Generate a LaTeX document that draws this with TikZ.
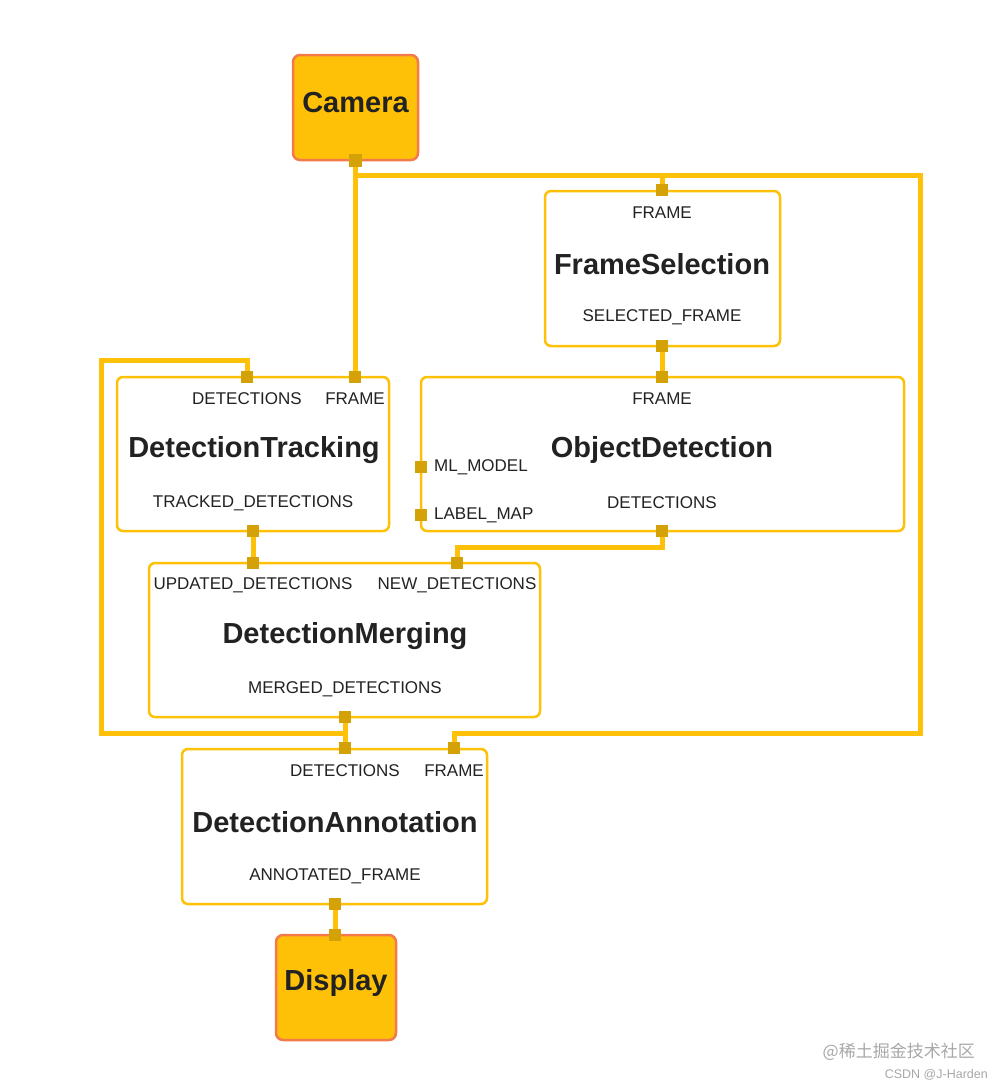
\documentclass[tikz,border=0pt]{standalone}
\usepackage{fontspec}
\setmainfont{Liberation Sans}
\newfontfamily\cjkfont{Noto Sans CJK SC}
\definecolor{amber}{HTML}{FFC107}
\definecolor{portc}{HTML}{D4A106}
\definecolor{edgec}{HTML}{F47A4C}
\definecolor{txt}{HTML}{222222}
\definecolor{wm}{HTML}{A8A8A8}
\pgfdeclarelayer{bg}
\pgfsetlayers{bg,main}
\tikzset{
  calcbox/.style={draw=amber, line width=2.5pt, fill=white, rounded corners=6pt, inner sep=0pt},
  srcbox/.style={draw=edgec, fill=amber, line width=2.5pt, rounded corners=7pt, inner sep=0pt},
  portsq/.style={fill=portc, draw=none, minimum size=12pt, inner sep=0pt},
  wire/.style={draw=amber, line width=5pt},
  plabel/.style={font=\fontsize{17}{19}\selectfont, text=txt, inner sep=0pt},
  ttl/.style={font=\fontsize{29}{32}\selectfont\bfseries, text=txt, inner sep=0pt},
}
\begin{document}
\begin{tikzpicture}[x=1pt,y=-1pt]
\useasboundingbox (0,0) rectangle (1004,1090);

% boxes
\node[srcbox, minimum width=125pt, minimum height=105pt] (cam) at (355.5,107.5) {};
\node[calcbox, minimum width=235pt, minimum height=155pt] (fs) at (662.5,268.5) {};
\node[calcbox, minimum width=483pt, minimum height=154pt] (od) at (662.5,454) {};
\node[calcbox, minimum width=272pt, minimum height=154pt] (dt) at (253,454) {};
\node[calcbox, minimum width=391pt, minimum height=154pt] (dm) at (344.5,640) {};
\node[calcbox, minimum width=305pt, minimum height=155pt] (da) at (334.5,826.5) {};
\node[srcbox, minimum width=120pt, minimum height=105pt] (disp) at (336,987.5) {};

% ports
\node[portsq, minimum size=13pt] (camOut) at (355,160) {};
\node[portsq] (fsIn) at (662,190) {};
\node[portsq] (fsOut) at (662,346) {};
\node[portsq] (odIn) at (662,377) {};
\node[portsq] (odModel) at (421,467) {};
\node[portsq] (odLabel) at (421,515) {};
\node[portsq] (odOut) at (662,531) {};
\node[portsq] (dtDet) at (247,377) {};
\node[portsq] (dtFrame) at (355,377) {};
\node[portsq] (dtOut) at (253,531) {};
\node[portsq] (dmUpd) at (253,563) {};
\node[portsq] (dmNew) at (457,563) {};
\node[portsq] (dmOut) at (345,717) {};
\node[portsq] (daDet) at (345,748) {};
\node[portsq] (daFrame) at (454,748) {};
\node[portsq] (daOut) at (335,904) {};
\node[portsq] (dispIn) at (335,935) {};

% bend points
\coordinate (jA) at (355,175);
\coordinate (jB) at (920,175);
\coordinate (jC) at (920,733);
\coordinate (jD) at (454,733);
\coordinate (jE) at (662,175);
\coordinate (jF) at (662,547);
\coordinate (jG) at (457,547);
\coordinate (jH) at (247,360);
\coordinate (jI) at (101,360);
\coordinate (jJ) at (101,733);
\coordinate (jK) at (345,733);

\begin{pgfonlayer}{bg}
\fill[white] (0,0) rectangle (1004,1090);
\draw[wire] (camOut.center) -- (dtFrame.center);
\draw[wire] (jA) -- (jB) -- (jC) -- (jD) -- (daFrame.center);
\draw[wire] (jA) -- (jE) -- (fsIn.center);
\draw[wire] (fsOut.center) -- (odIn.center);
\draw[wire] (odOut.center) -- (jF) -- (jG) -- (dmNew.center);
\draw[wire] (dtOut.center) -- (dmUpd.center);
\draw[wire] (dmOut.center) -- (daDet.center);
\draw[wire] (dtDet.center) -- (jH) -- (jI) -- (jJ) -- (jK);
\draw[wire] (daOut.center) -- (dispIn.center);
\end{pgfonlayer}

% texts
\node[ttl] (camT) at (355.5,103) {Camera};
\node[ttl] (dispT) at (336,983) {Display};

\node[plabel] (fsL1) at (662,213) {FRAME};
\node[ttl] (fsT) at (662,264) {FrameSelection};
\node[plabel] (fsL2) at (662,317) {SELECTED\_FRAME};

\node[plabel] (odL1) at (662,399) {FRAME};
\node[ttl] (odT) at (662,450) {ObjectDetection};
\node[plabel] (odL2) at (662,503) {DETECTIONS};
\node[plabel, anchor=west] (odL3) at (434,467) {ML\_MODEL};
\node[plabel, anchor=west] (odL4) at (434,515) {LABEL\_MAP};

\node[plabel] (dtL1) at (247,399) {DETECTIONS};
\node[plabel] (dtL2) at (355,399) {FRAME};
\node[ttl] (dtT) at (254,450) {DetectionTracking};
\node[plabel] (dtL3) at (253,503) {TRACKED\_DETECTIONS};

\node[plabel] (dmL1) at (253,585) {UPDATED\_DETECTIONS};
\node[plabel] (dmL2) at (457,585) {NEW\_DETECTIONS};
\node[ttl] (dmT) at (345,636) {DetectionMerging};
\node[plabel] (dmL3) at (345,689) {MERGED\_DETECTIONS};

\node[plabel] (daL1) at (345,771) {DETECTIONS};
\node[plabel] (daL2) at (454,771) {FRAME};
\node[ttl] (daT) at (335,822) {DetectionAnnotation};
\node[plabel] (daL3) at (335,876) {ANNOTATED\_FRAME};

% watermark
\node[anchor=east, inner sep=0pt, text=wm, font=\cjkfont\fontsize{17}{19}\selectfont] (wm1) at (975,1052) {@稀土掘金技术社区};
\node[anchor=east, inner sep=0pt, text=wm, font=\fontsize{12.5}{14}\selectfont] (wm2) at (988,1075) {CSDN @J-Harden};
\end{tikzpicture}
\end{document}
